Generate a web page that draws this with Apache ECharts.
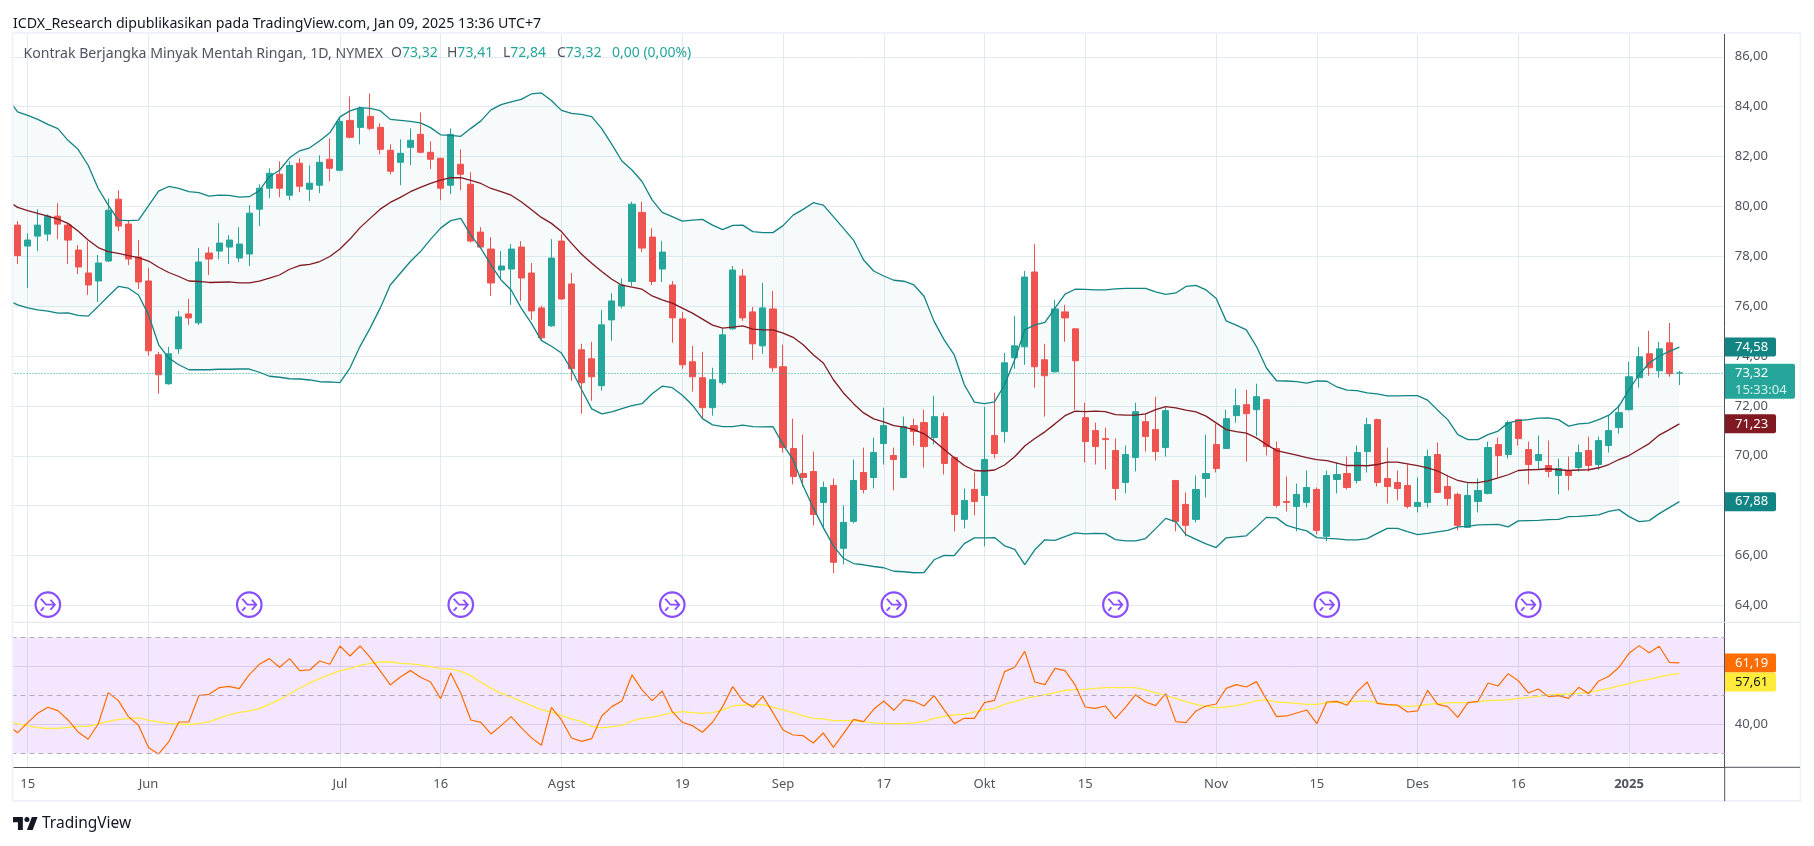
<!DOCTYPE html>
<html><head><meta charset="utf-8">
<style>html,body{margin:0;padding:0;background:#fff}#c{width:1814px;height:846px}</style>
<script src="https://cdn.jsdelivr.net/npm/echarts@6/dist/echarts.min.js"></script>
</head><body><div id="c"></div>
<script>
// ---- trading days ----
const may = [13,14,15,16,17,20,21,22,23,24,28,29,30,31];
const jun = [3,4,5,6,7,10,11,12,13,14,17,18,20,21,24,25,26,27,28];
const jul = [1,2,3,5,8,9,10,11,12,15,16,17,18,19,22,23,24,25,26,29,30,31];
const aug = [1,2,5,6,7,8,9,12,13,14,15,16,19,20,21,22,23,26,27,28,29,30];
const sep = [3,4,5,6,9,10,11,12,13,16,17,18,19,20,23,24,25,26,27,30];
const oct = [1,2,3,4,7,8,9,10,11,14,15,16,17,18,21,22,23,24,25,28,29,30,31];
const nov = [1,4,5,6,7,8,11,12,13,14,15,18,19,20,21,22,25,26,27,29];
const dec = [2,3,4,5,6,9,10,11,12,13,16,17,18,19,20,23,24,26,27,30,31];
const jan = [2,3,6,7,8,9];
const rightPadCategories = ['+1','+2','+3','+4'];

// ---- axis tick labels ----
const tickDates  = ['05-15','06-03','07-01','07-16','08-01','08-19','09-03','09-17','10-01','10-15','11-01','11-15','12-02','12-16','01-02'];
const tickLabels = ['15','Jun','Jul','16','Agst','19','Sep','17','Okt','15','Nov','15','Des','16','2025'];
const priceTicks = [64,66,68,70,72,74,76,78,80,82,84,86];
const rsiLabelTicks = [40];
const rsiSolidTicks = [40,60];
const rsiDashed = [30,50,70];
const eventDates = ['05-17','06-17','07-18','08-16','09-18','10-18','11-18','12-17'];
const eventPrice = 64.03;
const lastPrice = 73.32;

// ---- candles: open, high, low, close (first row lies off the left edge) ----
const ohlc = [null,
[79.25,79.41,77.69,78.03],[78.41,78.92,76.73,78.65],[78.81,79.88,78.21,79.25],[78.89,79.68,78.61,79.61],[79.61,80.13,78.69,79.29],
[79.25,79.32,77.69,78.65],[78.25,78.45,77.29,77.57],[77.33,78.61,76.45,76.85],[77.01,78.05,76.17,77.73],[77.81,80.32,77.77,79.85],
[80.29,80.65,79.01,79.21],[79.29,79.41,77.65,77.89],[77.97,78.65,76.69,76.97],[77.01,77.53,74.01,74.21],[74.05,74.17,72.49,73.25],
[72.89,74.37,72.85,74.09],[74.29,75.81,74.09,75.57],[75.69,76.29,75.25,75.53],[75.33,78.33,75.25,77.77],[78.13,78.37,77.25,77.89],
[78.21,79.33,77.89,78.53],[78.37,78.85,77.69,78.65],[77.93,79.17,77.77,78.49],[78.09,80.05,77.61,79.73],[79.89,80.89,79.21,80.73],
[80.73,81.53,80.33,81.33],[81.29,81.81,80.37,80.73],[80.45,81.81,80.25,81.64],[81.73,81.93,80.57,80.81],[80.69,81.65,80.21,80.93],
[80.85,82.05,80.53,81.77],[81.89,82.73,81.01,81.53],[81.45,83.59,81.41,83.41],[83.45,84.41,82.73,82.77],[83.17,84.01,82.49,83.92],
[83.61,84.53,83.05,83.13],[83.17,83.33,82.09,82.29],[82.25,82.49,81.29,81.41],[81.77,82.69,80.85,82.13],[82.37,83.13,81.65,82.65],
[82.89,83.77,82.13,82.17],[82.17,82.61,81.49,81.89],[81.93,81.95,80.25,80.73],[80.85,83.13,80.49,82.89],[81.69,82.29,80.65,81.29],
[80.89,81.37,78.55,78.61],[78.97,79.17,78.33,78.37],[78.29,78.77,76.41,76.93],[77.45,78.21,77.05,77.61],[77.49,78.49,76.05,78.29],
[78.37,78.61,76.21,77.13],[77.33,77.73,75.45,75.81],[75.93,76.01,74.61,74.73],[75.21,78.69,75.17,77.93],[78.61,78.89,76.25,76.29],
[76.89,77.33,73.01,73.49],[74.25,74.49,71.69,72.93],[73.89,74.57,72.21,73.17],[72.81,75.85,72.61,75.25],[75.45,76.52,74.61,76.21],
[76.01,77.12,75.91,76.85],[76.99,80.19,76.81,80.09],[79.76,80.19,78.17,78.33],[78.77,79.13,76.85,76.99],[77.49,78.61,76.97,78.17],
[76.85,77.01,74.53,75.53],[75.49,75.77,73.49,73.65],[73.77,74.41,72.57,73.17],[73.13,74.17,71.49,71.93],[71.93,73.53,71.61,73.05],
[72.93,75.09,72.85,74.85],[75.09,77.61,75.05,77.45],[77.21,77.49,75.41,75.53],[75.77,75.97,73.85,74.49],[74.41,76.93,74.09,75.93],
[75.89,76.61,73.37,73.53],[73.57,74.45,70.13,70.33],[70.29,71.49,68.85,69.17],[69.29,70.85,68.77,69.13],[69.37,70.17,67.21,67.65],
[68.13,68.97,67.05,68.73],[68.81,69.09,65.29,65.73],[66.29,68.01,65.65,67.33],[67.37,69.85,67.29,69.01],[69.33,70.33,68.49,68.65],
[69.13,70.73,68.69,70.13],[70.49,71.93,69.65,71.21],[70.01,70.33,68.61,69.85],[69.13,71.57,69.10,71.17],[71.21,71.49,70.41,70.97],
[71.33,71.85,69.53,70.37],[70.73,72.41,70.45,71.57],[71.57,71.73,69.25,69.69],[69.93,69.97,66.97,67.65],[67.45,68.69,67.09,68.21],
[68.65,69.33,67.61,68.17],[68.41,71.97,66.37,69.85],[70.81,72.53,69.89,70.09],[70.97,74.13,70.53,73.73],[73.93,75.61,73.49,74.41],
[74.37,77.41,73.65,77.17],[77.37,78.49,72.73,73.57],[73.85,74.49,71.57,73.21],[73.37,76.25,73.33,75.89],[75.77,76.05,74.57,75.53],
[75.09,75.11,71.85,73.81],[71.53,72.13,69.73,70.57],[71.01,71.33,69.65,70.37],[70.69,71.13,69.45,70.65],[70.21,70.69,68.21,68.69],
[68.93,70.41,68.49,70.05],[69.93,72.13,69.37,71.77],[71.37,71.69,70.17,70.77],[71.05,72.37,69.81,70.17],[70.33,71.93,69.97,71.81],
[69.01,69.03,66.97,67.37],[68.05,68.53,66.77,67.21],[67.45,69.21,67.33,68.65],[69.09,70.85,68.33,69.29],[70.45,71.29,69.33,69.49],
[70.29,71.85,70.27,71.49],[71.61,72.69,71.33,72.01],[72.05,72.65,69.77,71.69],[71.85,72.89,70.79,72.37],[72.25,72.29,70.01,70.37],
[70.29,70.57,67.93,68.01],[68.17,69.17,67.77,68.13],[67.97,68.89,66.97,68.45],[68.13,69.41,67.93,68.73],[68.65,68.73,66.85,67.01],
[66.77,69.41,66.57,69.21],[69.05,69.73,68.49,69.25],[69.29,69.97,68.65,68.73],[69.01,70.41,68.89,70.13],[70.17,71.53,69.33,71.25],
[71.45,71.49,68.77,68.93],[69.09,70.33,68.09,68.77],[68.93,69.41,68.21,68.69],[68.81,69.65,67.89,67.97],[67.97,69.13,67.73,68.13],
[68.13,70.25,67.93,69.97],[70.05,70.53,68.51,68.53],[68.77,69.21,68.01,68.29],[68.45,68.53,67.01,67.21],[67.13,68.89,67.11,68.41],
[68.17,69.09,67.73,68.61],[68.49,70.57,68.45,70.33],[70.45,70.73,69.13,70.01],[70.05,71.41,69.89,71.33],[71.45,71.47,70.41,70.69],
[70.25,70.57,68.85,69.65],[69.81,70.81,69.45,70.05],[69.61,70.61,69.13,69.37],[69.21,69.89,68.45,69.49],[69.41,69.97,68.61,69.21],
[69.53,70.45,69.37,70.13],[70.21,70.77,69.37,69.61],[69.65,70.77,69.45,70.61],[70.41,71.61,70.13,71.01],[71.13,72.05,70.89,71.73],
[71.85,73.77,71.81,73.17],[73.13,74.37,72.73,73.97],[74.09,75.01,73.21,73.53],[73.41,74.57,73.13,74.29],[74.53,75.33,73.17,73.29],
[73.32,73.41,72.84,73.32]
];

// ---- Bollinger bands ----
const bbUpper = [84.32,
83.79,83.65,83.49,83.29,83.12,82.65,82.29,81.65,80.72,80.05,
79.45,79.43,79.45,80.03,80.61,80.80,80.72,80.59,80.55,80.41,
80.45,80.44,80.37,80.39,80.63,81.19,81.45,81.95,82.23,82.35,
82.63,82.95,83.59,83.83,83.96,83.93,83.84,83.49,83.45,83.41,
83.35,83.16,82.87,82.85,82.81,83.13,83.43,83.87,84.08,84.19,
84.29,84.51,84.55,84.25,83.85,83.73,83.69,83.60,83.12,82.49,
81.82,81.46,81.00,80.26,79.76,79.59,79.41,79.45,79.48,79.25,
79.07,79.24,79.25,78.99,78.95,78.95,79.23,79.65,79.88,80.15,
80.05,79.59,79.12,78.65,77.85,77.41,77.21,77.04,77.00,76.85,
76.40,75.39,74.65,74.05,72.85,72.15,72.09,72.16,72.85,73.85,
75.05,75.25,75.35,75.92,76.48,76.68,76.67,76.65,76.65,76.69,
76.71,76.71,76.71,76.57,76.47,76.53,76.79,76.83,76.65,76.32,
75.41,75.24,75.05,74.39,73.52,73.01,73.00,72.97,72.91,73.00,
72.99,72.76,72.63,72.61,72.52,72.48,72.40,72.40,72.41,72.41,
72.23,71.83,71.45,70.85,70.65,70.65,70.85,70.99,71.32,71.41,
71.45,71.51,71.52,71.45,71.19,71.28,71.31,71.45,71.63,71.99,
72.65,73.25,73.72,73.99,74.19,74.36];
const bbMiddle = [80.23,
79.96,79.83,79.72,79.61,79.49,79.32,79.01,78.65,78.35,78.19,
78.12,78.03,77.95,77.81,77.56,77.35,77.19,77.01,76.99,76.95,
76.96,76.97,76.93,76.93,77.00,77.12,77.25,77.48,77.63,77.68,
77.79,77.99,78.29,78.69,79.15,79.52,79.89,80.16,80.36,80.59,
80.76,80.92,81.05,81.15,81.15,81.04,80.92,80.72,80.59,80.45,
80.19,79.88,79.56,79.32,78.99,78.52,78.08,77.72,77.39,77.08,
76.84,76.76,76.68,76.41,76.25,76.12,75.92,75.72,75.48,75.24,
75.12,75.16,75.21,75.08,75.05,75.05,74.92,74.75,74.45,74.05,
73.72,73.05,72.52,72.09,71.72,71.48,71.36,71.21,71.15,71.05,
70.88,70.59,70.25,69.92,69.61,69.41,69.39,69.43,69.63,69.96,
70.39,70.69,70.96,71.28,71.61,71.79,71.77,71.79,71.77,71.65,
71.63,71.63,71.68,71.85,71.97,71.92,71.83,71.76,71.59,71.32,
71.05,70.97,70.91,70.72,70.45,70.21,70.12,70.03,69.93,69.85,
69.81,69.71,69.61,69.61,69.60,69.65,69.75,69.75,69.68,69.61,
69.52,69.39,69.19,69.01,68.92,68.92,68.99,69.11,69.24,69.41,
69.44,69.45,69.48,69.44,69.41,69.43,69.44,69.52,69.65,69.85,
70.01,70.25,70.49,70.83,71.05,71.28];
const bbLower = [76.24,
76.05,75.93,75.85,75.80,75.72,75.73,75.63,75.60,75.99,76.40,
76.79,76.72,76.45,75.65,74.45,73.92,73.65,73.45,73.45,73.45,
73.47,73.47,73.48,73.48,73.35,73.19,73.15,73.09,73.08,73.04,
72.97,72.96,72.93,73.52,74.39,75.12,75.92,76.85,77.32,77.79,
78.19,78.68,79.13,79.43,79.52,78.85,78.32,77.65,77.05,76.65,
75.92,75.32,74.63,74.39,74.12,73.45,72.65,71.88,71.68,71.76,
71.89,72.01,72.09,72.49,72.79,72.73,72.43,72.03,71.49,71.24,
71.17,71.17,71.23,71.17,71.16,71.17,70.45,69.85,68.79,67.92,
67.12,66.39,65.89,65.68,65.63,65.56,65.51,65.37,65.35,65.31,
65.32,65.83,66.01,66.00,66.48,66.71,66.71,66.72,66.39,66.25,
65.64,66.23,66.63,66.61,66.76,66.91,66.87,66.89,66.88,66.64,
66.59,66.59,66.68,67.08,67.49,67.35,66.84,66.65,66.47,66.32,
66.71,66.75,66.79,67.15,67.53,67.51,67.21,67.09,66.99,66.72,
66.69,66.67,66.63,66.63,66.68,66.89,67.09,67.09,66.96,66.84,
66.89,66.95,67.01,67.15,67.17,67.23,67.24,67.25,67.15,67.39,
67.40,67.41,67.44,67.45,67.56,67.57,67.60,67.63,67.77,67.84,
67.56,67.36,67.40,67.68,67.92,68.16];

// ---- RSI and its moving average ----
const rsi = [39.62,
37.08,40.54,43.77,45.85,44.69,41.46,37.31,34.78,40.08,50.92,
48.15,42.62,39.62,31.89,29.70,33.85,40.77,40.77,49.88,50.35,
52.65,53.11,52.31,57.15,60.73,62.69,59.69,62.69,58.54,58.77,
61.88,60.73,67.07,63.61,67.07,63.15,58.42,53.58,56.34,58.54,
56.23,54.61,48.85,57.73,50.69,41.46,40.66,36.62,39.50,42.62,
38.81,35.35,32.70,45.85,41.46,35.24,34.08,35.00,42.85,46.08,
48.04,57.04,51.85,48.15,51.50,44.35,40.66,39.50,37.20,40.66,
46.08,53.00,48.15,45.85,49.65,44.00,38.00,36.27,36.04,33.51,
36.97,32.00,36.74,41.70,40.89,45.16,48.04,44.81,48.50,47.92,
46.31,49.88,44.93,40.20,42.04,42.04,47.46,48.27,58.19,59.69,
65.22,54.61,53.69,59.34,58.54,53.58,45.96,45.50,46.31,41.93,
45.85,50.23,47.69,46.42,50.58,40.89,40.54,44.58,46.31,47.00,
52.42,53.69,52.88,54.73,48.62,42.62,42.85,43.89,44.93,40.20,
47.69,47.92,46.54,51.27,54.61,47.23,46.77,46.65,44.23,44.58,
51.73,46.89,46.08,42.39,47.46,47.92,54.27,53.23,57.50,55.07,
50.81,52.19,49.54,49.88,48.96,52.77,50.58,54.96,56.57,59.69,
64.53,67.19,64.76,66.96,61.42,61.19];
const rsiMa = [41.23,
40.08,39.50,38.81,38.58,38.58,38.93,39.27,39.27,40.08,41.00,
41.70,41.93,42.16,41.35,40.77,40.31,40.08,39.97,40.20,40.77,
42.04,43.20,44.12,44.58,45.39,46.89,48.39,50.46,52.54,54.27,
55.77,57.27,58.42,59.34,60.38,61.07,61.53,61.53,61.07,60.84,
60.50,59.92,59.23,59.11,58.30,56.80,54.61,52.42,50.69,49.42,
47.92,46.54,44.93,44.23,42.96,41.81,40.89,39.27,38.70,39.16,
39.50,41.12,42.04,42.39,43.20,43.89,44.35,44.00,43.77,44.00,
44.93,46.31,46.65,46.77,46.77,45.85,44.93,44.00,42.85,42.04,
41.81,41.23,41.23,41.23,40.89,40.43,40.31,40.20,40.20,40.43,
41.00,42.04,42.73,43.20,43.43,44.23,44.93,45.50,46.89,47.81,
48.96,49.54,50.12,50.92,51.73,51.96,52.08,52.42,52.65,52.65,
52.65,52.65,51.85,50.81,49.88,48.96,47.81,46.89,46.19,45.73,
45.96,46.42,47.12,48.15,48.39,47.69,47.46,47.23,46.89,46.89,
47.46,47.58,47.81,47.92,48.04,47.35,46.77,46.42,46.19,46.31,
46.89,47.12,47.35,47.46,47.46,47.81,48.15,48.27,48.39,48.96,
49.19,49.65,50.12,50.35,50.46,50.69,51.04,51.73,52.42,53.23,
54.04,54.96,55.54,56.34,57.04,57.61];

// ---- texts ----
const publishedText = 'ICDX_Research dipublikasikan pada TradingView.com, Jan 09, 2025 13:36 UTC+7';
const symbolText = 'Kontrak Berjangka Minyak Mentah Ringan, 1D, NYMEX';
const ohlcKeys = ['O','H','L','C',''];
const ohlcVals = ['73,32','73,41','72,84','73,32','0,00 (0,00%)'];
const upperLabel='74,58', middleLabel='71,23', lowerLabel='67,88', rsiLabel='61,19', rsiMaLabel='57,61', priceLabel='73,32', countdownLabel='15:33:04';

const cats = [].concat(
  may.map(d=>'05-'+String(d).padStart(2,'0')), jun.map(d=>'06-'+String(d).padStart(2,'0')),
  jul.map(d=>'07-'+String(d).padStart(2,'0')), aug.map(d=>'08-'+String(d).padStart(2,'0')),
  sep.map(d=>'09-'+String(d).padStart(2,'0')), oct.map(d=>'10-'+String(d).padStart(2,'0')),
  nov.map(d=>'11-'+String(d).padStart(2,'0')), dec.map(d=>'12-'+String(d).padStart(2,'0')),
  jan.map(d=>'01-'+String(d).padStart(2,'0')));
[ohlc,bbUpper,bbMiddle,bbLower,rsi,rsiMa].forEach((a,i)=>{ if(a.length!==cats.length) throw new Error('len '+i+' '+a.length+' vs '+cats.length); });
const allCats = cats.concat(rightPadCategories);
const tickIdx = new Set(tickDates.map(d=>allCats.indexOf(d)));
const FONT = '"Noto Sans", sans-serif';
const TXT = '#50535e';
const GRID = '#e3ebf2';
const fmt = v => v.toFixed(2).replace('.',',');
const tickFn = i => tickIdx.has(i);

const L = 2.53, R = 1724.7;
const makeX = (grid, labels) => ({
  type:'category', gridIndex:grid, data:allCats, boundaryGap:true,
  axisLine:{show:labels, lineStyle:{color:'#50535e'}, onZero:false},
  axisTick:{show:false, alignWithLabel:true, interval:tickFn},
  splitLine:{show:true, alignWithLabel:true, interval:tickFn, lineStyle:{color:GRID,width:1}},
  axisLabel:{show:labels, interval:tickFn, margin:10, color:TXT, fontFamily:FONT, fontSize:13,
    formatter:v=>{const l=tickLabels[tickDates.indexOf(v)]; return l==='2025'?'{b|2025}':l;},
    rich:{b:{fontWeight:'bold',color:TXT,fontFamily:FONT,fontSize:13}}}
});
const line = (name,data,color,w,xi,yi,z) => ({type:'line',name,data,xAxisIndex:xi,yAxisIndex:yi,showSymbol:false,symbol:'none',
  lineStyle:{color,width:w},itemStyle:{color},silent:true,z:z||3});

const chart = echarts.init(document.getElementById('c'),null,{renderer:'canvas',width:1814,height:846});
const option = {
  animation:false, backgroundColor:'#ffffff', tooltip:{show:false},
  grid:[
    {left:L,top:33,width:R-L,height:589,containLabel:false},
    {left:L,top:622.3,width:R-L,height:145,containLabel:false}
  ],
  xAxis:[makeX(0,false),makeX(1,true)],
  yAxis:[
    {type:'value',gridIndex:0,position:'right',min:63.335,max:86.954,scale:true,
     axisLine:{show:true,lineStyle:{color:'#50535e'}},
     axisTick:{show:false,customValues:priceTicks},
     splitLine:{show:true,lineStyle:{color:GRID,width:1}},
     axisLabel:{customValues:priceTicks,margin:10,color:TXT,fontFamily:FONT,fontSize:13,formatter:fmt}},
    {type:'value',gridIndex:1,position:'right',min:25.09,max:75.26,
     axisLine:{show:true,lineStyle:{color:'#50535e'}},
     axisTick:{show:false,customValues:rsiSolidTicks},
     splitLine:{show:true,lineStyle:{color:'#dfdff2',width:1}},
     axisLabel:{customValues:rsiLabelTicks,margin:10,color:TXT,fontFamily:FONT,fontSize:13,formatter:fmt}}
  ],
  series:[
    {type:'line',name:'bbBase',data:bbLower,xAxisIndex:0,yAxisIndex:0,stack:'bb',symbol:'none',lineStyle:{width:0,opacity:0},silent:true,z:1},
    {type:'line',name:'bbFill',data:bbUpper.map((u,i)=>+(u-bbLower[i]).toFixed(2)),xAxisIndex:0,yAxisIndex:0,stack:'bb',symbol:'none',
     lineStyle:{width:0,opacity:0},areaStyle:{color:'rgba(19,132,132,0.055)'},silent:true,z:1},
    {type:'candlestick',name:'candles',xAxisIndex:0,yAxisIndex:0,barWidth:6.6,silent:true,z:2,
     data:ohlc.map(r=>r?[r[0],r[3],r[2],r[1]]:['-','-','-','-']),
     itemStyle:{color:'#26a69a',color0:'#ef5350',borderColor:'#26a69a',borderColor0:'#ef5350',borderWidth:1},
     markLine:{silent:true,symbol:'none',label:{show:false},animation:false,
       lineStyle:{color:'#26a69a',type:[1,2],width:1},data:[{yAxis:lastPrice}]}},
    line('upper',bbUpper,'#138484',1.3,0,0),
    line('lower',bbLower,'#138484',1.3,0,0),
    line('middle',bbMiddle,'#801922',1.3,0,0),
    {type:'scatter',name:'eventsRing',xAxisIndex:0,yAxisIndex:0,symbol:'circle',symbolSize:24.5,silent:true,z:6,clip:false,
     data:eventDates.map(d=>[d,eventPrice]),itemStyle:{color:'#ffffff',borderColor:'#6a22ff',borderWidth:2.2}},
    {type:'scatter',name:'eventsGlyph',xAxisIndex:0,yAxisIndex:0,silent:true,z:7,clip:false,
     symbol:'path://M0 2L6 8L16 8M11 3L16 8L11 13M0 14L3.5 10.5',symbolSize:[14,12],
     data:eventDates.map(d=>[d,eventPrice]),itemStyle:{color:'rgba(0,0,0,0)',borderColor:'#6a22ff',borderWidth:1.8}},
    Object.assign(line('rsi',rsi,'#ff6d00',1.2,1,1,4),{
      markArea:{silent:true,itemStyle:{color:'rgba(155,28,237,0.11)'},data:[[{yAxis:rsiDashed[0]},{yAxis:rsiDashed[2]}]]},
      markLine:{silent:true,symbol:'none',label:{show:false},animation:false,
        lineStyle:{color:'#b3a9bd',type:[5,4],width:1},data:rsiDashed.map(v=>({yAxis:v}))}}),
    line('rsiMa',rsiMa,'#ffeb3b',1.3,1,1,3)
  ]
};
chart.setOption(option);

// ---- overlays: frame, texts and last-value tags positioned from the axes ----
const py = v => chart.convertToPixel({yAxisIndex:0},v);
const qy = v => chart.convertToPixel({yAxisIndex:1},v);
const g = [];
const Z = 50;
g.push({type:'rect',z:Z,shape:{x:0,y:33,width:12,height:770},style:{fill:'#fff'}});
g.push({type:'rect',z:Z,shape:{x:12.5,y:33,width:1788,height:768},style:{fill:'none',stroke:'#f0f3fa',lineWidth:2}});
g.push({type:'line',z:Z-1,shape:{x1:12,y1:622.3,x2:1800,y2:622.3},style:{stroke:'#e0e3eb',lineWidth:1}});
g.push({type:'line',z:Z,shape:{x1:1724.7,y1:767.3,x2:1800,y2:767.3},style:{stroke:'#50535e',lineWidth:1}});
g.push({type:'line',z:Z,shape:{x1:1724.7,y1:767.3,x2:1724.7,y2:801},style:{stroke:'#50535e',lineWidth:1}});
g.push({type:'text',z:Z,style:{text:publishedText,x:13,y:24,verticalAlign:'middle',fill:'#131722',font:'14.2px '+FONT}});
g.push({type:'text',z:Z,style:{text:symbolText,x:23.5,y:53.5,verticalAlign:'middle',fill:'#50535e',font:'14.1px '+FONT}});
const keyX=[391,447,503,557,612];
ohlcKeys.forEach((k,i)=>{
  g.push({type:'text',z:Z,style:{text:'{k|'+k+'}{v|'+ohlcVals[i]+'}',x:keyX[i],y:53.5,verticalAlign:'middle',
    rich:{k:{fill:'#50535e',font:'14px '+FONT},v:{fill:'#26a69a',font:'14px '+FONT}}}});
});
function tag(y,h,w,bg,fg,lines){
  g.push({type:'rect',z:Z+1,shape:{x:1725,y:y-h/2,width:w,height:h,r:[0,2,2,0]},style:{fill:bg}});
  lines.forEach((t,i)=>g.push({type:'text',z:Z+2,style:{text:t.text,x:1735,y:t.y,verticalAlign:'middle',fill:t.fill||fg,font:'13px '+FONT}}));
}
const yU=py(bbUpper[bbUpper.length-1]), yM=py(bbMiddle[bbMiddle.length-1]), yL=py(bbLower[bbLower.length-1]), yP=py(lastPrice);
tag(yU,19,51,'#138484','#fff',[{text:upperLabel,y:yU}]);
tag(yM,19,51,'#801922','#fff',[{text:middleLabel,y:yM}]);
tag(yL,19,51,'#138484','#fff',[{text:lowerLabel,y:yL}]);
tag(yP+8.3,35,70,'#26a69a','#fff',[{text:priceLabel,y:yP},{text:countdownLabel,y:yP+17,fill:'#d4f0ec'}]);
const yR=qy(rsi[rsi.length-1]);
tag(yR,19,51,'#ff6d00','#fff',[{text:rsiLabel,y:yR}]);
tag(yR+19,19,51,'#ffeb3b','#131722',[{text:rsiMaLabel,y:yR+19}]);
// TradingView mark from plain shapes
const lx = v => 13+(v-2)*0.82, ly = v => 817+(v-6)*0.867;
g.push({type:'polygon',z:Z,shape:{points:[[2,6],[14,6],[14,21],[8,21],[8,12],[2,12]].map(p=>[lx(p[0]),ly(p[1])])},style:{fill:'#131722'}});
g.push({type:'polygon',z:Z,shape:{points:[[19,21],[26,21],[32,6],[25,6]].map(p=>[lx(p[0]),ly(p[1])])},style:{fill:'#131722'}});
g.push({type:'circle',z:Z,shape:{cx:lx(19),cy:ly(9),r:2.5},style:{fill:'#131722'}});
g.push({type:'text',z:Z,style:{text:'TradingView',x:42,y:824,verticalAlign:'middle',fill:'#131722',font:'15.5px '+FONT}});
chart.setOption({graphic:{elements:g}});
</script></body></html>
